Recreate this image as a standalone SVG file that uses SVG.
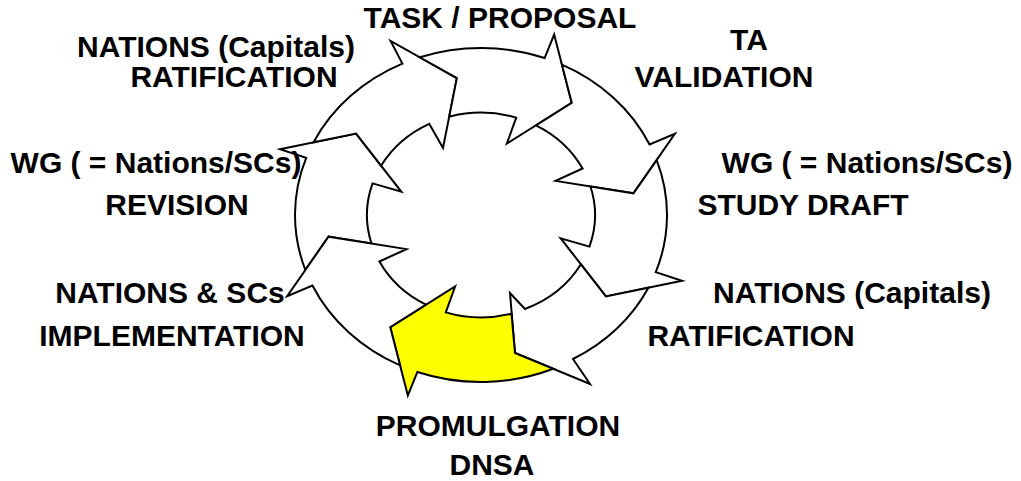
<svg xmlns="http://www.w3.org/2000/svg" width="1021" height="481" viewBox="0 0 1021 481">
<style>
.arr{fill:#ffffff;stroke:#000;stroke-width:2;stroke-linejoin:miter;stroke-miterlimit:10}
.yel{fill:#ffff00}
.lbl{font-family:"Liberation Sans",Arial,sans-serif;font-weight:bold;font-size:30px;fill:#000;text-anchor:middle}
</style>
<rect width="1021" height="481" fill="#ffffff"/>
<g id="cycle">
  <g id="arrow-revision"><path class="arr" d="M305.34,269.93 A186,167 0 0 1 306.22,157.89 L280,149.32 L356.11,133.53 L401.39,191.78 L372.56,183.37 A114,102.4 0 0 0 371.51,243.56 L328.52,236.68 Z"/></g>
  <g id="arrow-ratification-top"><path class="arr" d="M313.54,142.32 A186,167 0 0 1 402.4,63.65 L390.61,40.95 L456.85,78.09 L443,148.04 L429.24,123.79 A114,102.4 0 0 0 381.09,165.68 L356.11,133.53 Z"/></g>
  <g id="arrow-task"><path class="arr" d="M419.82,57.29 A186,167 0 0 1 544.61,58.07 L554.15,34.53 L571.74,102.87 L506.86,143.53 L516.23,117.64 A114,102.4 0 0 0 449.19,116.69 L456.85,78.09 Z"/></g>
  <g id="arrow-validation"><path class="arr" d="M561.95,64.65 A186,167 0 0 1 649.57,144.43 L674.86,133.84 L633.48,193.32 L555.58,180.88 L582.59,168.52 A114,102.4 0 0 0 535.93,125.29 L571.74,102.87 Z"/></g>
  <g id="arrow-study"><path class="arr" d="M656.66,160.07 A186,167 0 0 1 655.78,272.11 L682,280.68 L605.89,296.47 L560.61,238.22 L589.44,246.63 A114,102.4 0 0 0 590.49,186.44 L633.48,193.32 Z"/></g>
  <g id="arrow-ratification-bottom"><path class="arr" d="M648.46,287.68 A186,167 0 0 1 573,359 L590,384 L515,353 L510,293 L525,309 A114,102.4 0 0 0 580.91,264.32 L605.89,296.47 Z"/></g>
  <g id="arrow-promulgation"><path class="arr yel" d="M553.3,368.8 A186,167 0 0 1 417.39,371.93 L407.85,395.47 L390.26,327.13 L455.14,286.47 L445.77,312.36 A114,102.4 0 0 0 511.5,313.7 L515,353 Z"/></g>
  <g id="arrow-implementation"><path class="arr" d="M400.05,365.35 A186,167 0 0 1 312.43,285.57 L287.14,296.16 L328.52,236.68 L406.42,249.12 L379.41,261.48 A114,102.4 0 0 0 426.07,304.71 L390.26,327.13 Z"/></g>
</g>
<g id="label-task"><text class="lbl" x="500" y="28">TASK / PROPOSAL</text></g>
<g id="label-ta"><text class="lbl" x="749" y="50">TA</text><text class="lbl" x="724" y="87">VALIDATION</text></g>
<g id="label-study"><text class="lbl" x="867" y="173">WG ( = Nations/SCs)</text><text class="lbl" x="803" y="215">STUDY DRAFT</text></g>
<g id="label-ratification-right"><text class="lbl" x="852" y="303">NATIONS (Capitals)</text><text class="lbl" x="751" y="346">RATIFICATION</text></g>
<g id="label-promulgation"><text class="lbl" x="498" y="436">PROMULGATION</text><text class="lbl" x="492" y="475">DNSA</text></g>
<g id="label-implementation"><text class="lbl" x="170" y="303">NATIONS &amp; SCs</text><text class="lbl" x="172" y="346">IMPLEMENTATION</text></g>
<g id="label-revision"><text class="lbl" x="156" y="173">WG ( = Nations/SCs)</text><text class="lbl" x="177" y="215">REVISION</text></g>
<g id="label-ratification-left"><text class="lbl" x="216" y="57">NATIONS (Capitals)</text><text class="lbl" x="234" y="87">RATIFICATION</text></g>
</svg>
